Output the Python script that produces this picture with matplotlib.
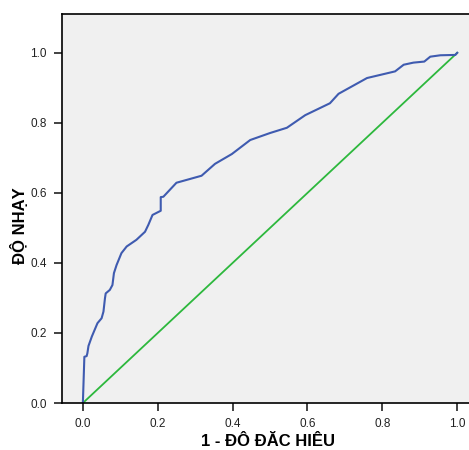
import matplotlib
matplotlib.use("Agg")
import matplotlib.pyplot as plt

fpr = [0.0, 0.004, 0.010, 0.012, 0.015, 0.024, 0.039, 0.050, 0.055, 0.059, 0.061,
       0.072, 0.079, 0.083, 0.090, 0.103, 0.117, 0.143, 0.166, 0.175, 0.186,
       0.208, 0.208, 0.215, 0.250, 0.317, 0.353, 0.398, 0.447, 0.500, 0.545,
       0.594, 0.660, 0.683, 0.759, 0.834, 0.857, 0.883, 0.912, 0.928, 0.955,
       0.995, 1.0]
tpr = [0.0, 0.132, 0.134, 0.142, 0.163, 0.190, 0.228, 0.242, 0.261, 0.299, 0.313,
       0.323, 0.337, 0.371, 0.394, 0.428, 0.447, 0.466, 0.489, 0.509, 0.537,
       0.549, 0.588, 0.589, 0.629, 0.649, 0.683, 0.711, 0.751, 0.771, 0.786,
       0.822, 0.856, 0.883, 0.928, 0.947, 0.966, 0.972, 0.975, 0.989, 0.993,
       0.994, 1.0]
ref_line = [0.0, 1.0]
ticks = [0.0, 0.2, 0.4, 0.6, 0.8, 1.0]
tick_labels = ["0.0", "0.2", "0.4", "0.6", "0.8", "1.0"]

plt.rcParams['font.family'] = ['Liberation Sans', 'DejaVu Sans']

fig = plt.figure(figsize=(4.69, 4.5), dpi=100)
ax = fig.add_axes([0.132, 0.1044, 0.878, 0.8646])
ax.set_facecolor('#F0F0F0')

ax.plot(ref_line, ref_line, color='#2DB83D', lw=1.3)
ax.plot(fpr, tpr, color='#3F5BB0', lw=1.5)

ax.set_xlim(-0.056, 1.044)
ax.set_ylim(0.0, 1.111)
ax.set_xticks(ticks)
ax.set_xticklabels(tick_labels)
ax.set_yticks(ticks)
ax.set_yticklabels(tick_labels)
ax.tick_params(direction='out', length=6, width=1.2, labelsize=8.5, colors='#222222', pad=5)
for s in ax.spines.values():
    s.set_color('black')
    s.set_linewidth(1.2)

ax.set_xlabel("1 - ĐÔ ĐĂC HIÊU", fontsize=12, fontweight='bold', labelpad=3)
ax.set_ylabel("ĐỘ NHẠY", fontsize=12, fontweight='bold')
ax.yaxis.set_label_coords(-0.083, 0.455)

fig.savefig("out.png", dpi=100)
